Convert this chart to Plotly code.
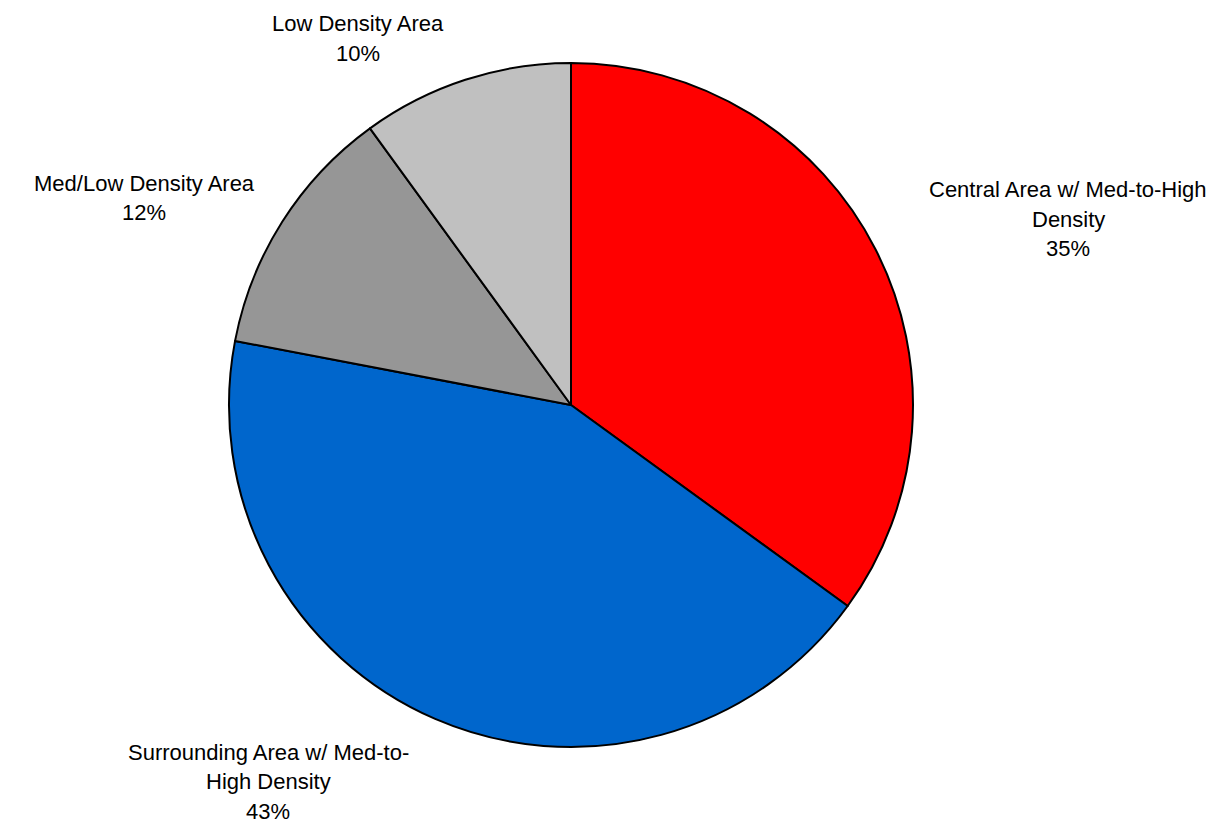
import plotly.graph_objects as go

categories = ["Central Area w/ Med-to-High Density", "Surrounding Area w/ Med-to-High Density",
              "Med/Low Density Area", "Low Density Area"]
values = [35, 43, 12, 10]
colors = ["#FF0000", "#0066CC", "#969696", "#C0C0C0"]
label_lines = [["Central Area w/ Med-to-High", "Density", "35%"],
               ["Surrounding Area w/ Med-to-", "High Density", "43%"],
               ["Med/Low Density Area", "12%"],
               ["Low Density Area", "10%"]]
label_pos = [(1060, 182), (260, 744), (136, 175), (350, 16)]  # pixel centre of first line

W, H = 1224, 828
fig = go.Figure(go.Pie(
    labels=categories, values=values, sort=False, direction="clockwise", rotation=0,
    marker=dict(colors=colors, line=dict(color="black", width=2)),
    textinfo="none", hoverinfo="label+percent", showlegend=False,
    domain=dict(x=[221/W, 905/W], y=[1-739/H, 1-55/H])))

ann = []
for lines, (px, py) in zip(label_lines, label_pos):
    for i, t in enumerate(lines):
        ann.append(dict(text=t, x=px/W, y=1-(py+29.5*i)/H, xref="paper", yref="paper",
                        showarrow=False, xanchor="center", yanchor="middle",
                        font=dict(family="Liberation Sans, Arial", size=22, color="black")))
fig.update_layout(width=W, height=H, margin=dict(l=0, r=0, t=0, b=0),
                  paper_bgcolor="white", plot_bgcolor="white", annotations=ann)
fig.write_html("out.html")
